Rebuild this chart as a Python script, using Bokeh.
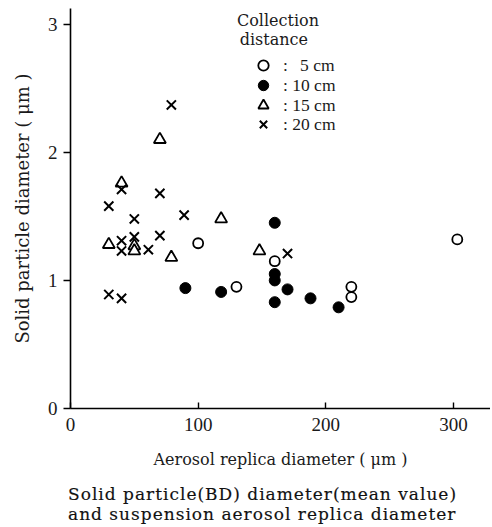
from bokeh.plotting import figure
from bokeh.models import Range1d, FixedTicker, Legend, LegendItem, Label, Div
from bokeh.layouts import column
from bokeh.embed import file_html
from bokeh.resources import INLINE

# ---- data ----
d5_x = [100, 130, 160, 220, 220, 303]
d5_y = [1.29, 0.95, 1.15, 0.95, 0.87, 1.32]

d10_x = [90, 118, 160, 160, 160, 160, 170, 188, 210]
d10_y = [0.94, 0.91, 1.45, 1.05, 1.00, 0.83, 0.93, 0.86, 0.79]

d15_x = [70, 40, 118, 30, 50, 50, 79, 148]
d15_y = [2.10, 1.76, 1.48, 1.28, 1.27, 1.23, 1.18, 1.23]

d20_x = [79, 40, 70, 30, 50, 89, 40, 50, 70, 40, 61, 170, 30, 40]
d20_y = [2.37, 1.71, 1.68, 1.58, 1.48, 1.51, 1.31, 1.34, 1.35, 1.23, 1.24, 1.21, 0.89, 0.86]

x_ticks = [0, 100, 200, 300]
y_ticks = [0, 1, 2, 3]
legend_labels = [":\u2007\u20095 cm", ": 10 cm", ": 15 cm", ": 20 cm"]
legend_title = ["Collection", "distance"]
x_label = "Aerosol replica diameter ( μm )"
y_label = "Solid particle diameter ( μm )"
caption = ["Solid particle(BD) diameter(mean value)",
           "and suspension aerosol replica diameter"]

SERIF = "DejaVu Serif"
NUM = "Liberation Serif"

TOP = 8
B = 64
W = 490
p = figure(width=W, height=TOP + 400 + B,
           x_range=Range1d(0, 329), y_range=Range1d(0, 3.123),
           output_backend="svg", toolbar_location=None,
           min_border_left=70, min_border_right=0, min_border_top=TOP,
           min_border_bottom=B)

p.outline_line_color = None
p.xgrid.visible = False
p.ygrid.visible = False
p.background_fill_color = "white"

p.xaxis.ticker = FixedTicker(ticks=x_ticks, minor_ticks=[])
p.yaxis.ticker = FixedTicker(ticks=y_ticks, minor_ticks=[])
for ax in (p.xaxis[0], p.yaxis[0]):
    ax.axis_line_width = 1.6
    ax.axis_line_color = "black"
    ax.major_tick_line_color = "black"
    ax.major_tick_line_width = 1.4
    ax.major_label_text_font = NUM
    ax.major_label_text_font_size = "19px"
    ax.major_label_text_color = "#1a1a1a"
    ax.axis_label_text_font = SERIF
    ax.axis_label_text_font_style = "normal"
    ax.axis_label_text_color = "#1a1a1a"

p.xaxis.axis_label_text_font_size = "16px"
p.yaxis.axis_label_text_font_size = "18px"

p.xaxis.major_tick_in = 6
p.xaxis.major_tick_out = 0
p.xaxis.major_label_standoff = 9
p.xaxis.axis_label = x_label
p.xaxis.axis_label_standoff = 16

p.yaxis.major_tick_in = 0
p.yaxis.major_tick_out = 7
p.yaxis.major_label_standoff = 6
p.yaxis.axis_label = y_label
p.yaxis.axis_label_standoff = 12

r5 = p.scatter(d5_x, d5_y, marker="circle", size=10, fill_color="white",
               line_color="black", line_width=1.8)
r10 = p.scatter(d10_x, d10_y, marker="circle", size=11, fill_color="black",
                line_color="black", line_width=1)
r15 = p.scatter(d15_x, d15_y, marker="triangle", size=12, fill_color="white",
                line_color="black", line_width=1.8)
r20 = p.scatter(d20_x, d20_y, marker="x", size=13, line_color="black",
                line_width=2)

# one single-item legend per row, so that rows can sit closer than the glyph box
row_y = [330, 310, 290, 271]
for lab, rend, yy in zip(legend_labels, [r5, r10, r15, r20], row_y):
    lg = Legend(items=[LegendItem(label=lab, renderers=[rend])],
                location=(180, yy), padding=0, margin=0, spacing=0,
                glyph_width=26, glyph_height=26, label_height=20,
                label_standoff=7, border_line_color=None,
                background_fill_alpha=0,
                label_text_font=NUM, label_text_font_size="17.5px",
                label_text_color="#1a1a1a")
    p.add_layout(lg)

p.add_layout(Label(x=130.4, y=3.105, text=legend_title[0], text_font=SERIF,
                   text_font_size="16px", text_baseline="top",
                   text_color="#1a1a1a"))
p.add_layout(Label(x=132.5, y=2.955, text=legend_title[1], text_font=SERIF,
                   text_font_size="16px", text_baseline="top",
                   text_color="#1a1a1a"))

cap_html = ('<div style="font-family:\'DejaVu Serif\';font-size:17px;'
            'letter-spacing:1px;-webkit-text-stroke:0.15px #111;'
            'line-height:20px;color:#111;padding-top:12px;padding-left:68px;'
            'white-space:nowrap;">' + caption[0] + '<br>' + caption[1] + '</div>')
div = Div(text=cap_html, width=W, height=527 - (TOP + 400 + B), margin=(0, 0, 0, 0))

layout = column(p, div, spacing=0)
open("out.html", "w").write(file_html(layout, INLINE))
